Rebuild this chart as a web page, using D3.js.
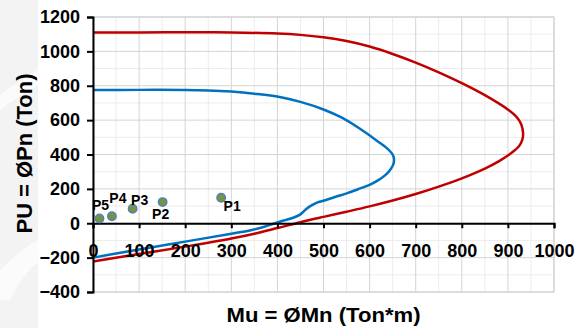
<!DOCTYPE html>
<html>
<head>
<meta charset="utf-8">
<script src="https://cdn.jsdelivr.net/npm/d3@7"></script>
<style>
  html, body { margin: 0; padding: 0; background: #ffffff; }
  svg { display: block; }
  text { font-family: "Liberation Sans", Arial, sans-serif; }
</style>
</head>
<body>
<svg id="chart" width="580" height="328"></svg>
<script>
// ---- data ----
const outerMu = [0, 100, 200, 300, 400, 450, 500, 550, 600, 650, 700, 750, 800, 850, 902, 915, 924, 929.5, 933, 931, 924, 907, 880, 850, 800, 750, 700, 650, 600, 550, 500, 450, 400, 350, 300, 250, 200, 100, 0];
const outerPu = [1110, 1110, 1111, 1110, 1104, 1096, 1082, 1060, 1028, 985, 935, 878, 815, 745, 658, 629, 600, 571, 524, 483, 448, 408, 360, 318, 261, 213, 170, 132, 98, 67, 37, 6, -28, -61, -89, -113, -136, -179, -222];

const innerMu = [0, 100, 200, 250, 300, 350, 405, 450, 500, 540, 580, 615, 638, 650, 653, 651, 644, 634, 619, 601, 575, 550, 525, 500, 486, 474, 462, 449, 434, 415, 398, 370, 340, 300, 200, 100, 0];
const innerPu = [775, 776, 776, 773, 766, 754, 735, 706, 662, 614, 548, 482, 436, 400, 372, 340, 309, 280, 251, 225, 198, 174, 153, 131, 120, 104, 82, 50, 32, 17, 3, -22, -42, -61, -107, -153, -200];

const pointNames = ["P1", "P2", "P3", "P4", "P5"];
const pointMu = [278, 151, 86, 41, 14];
const pointPu = [148, 123, 84, 41, 28];

const xTicks = [0, 100, 200, 300, 400, 500, 600, 700, 800, 900, 1000];
const yTicks = [-400, -200, 0, 200, 400, 600, 800, 1000, 1200];

const xTitle = "Mu = ØMn (Ton*m)";
const yTitle = "PU = ØPn (Ton)";

// ---- layout ----
const labelOffsets = { P1: [11, 8], P2: [-2, 12], P3: [7, -9], P4: [6, -18], P5: [1, -13] };

const svg = d3.select("#chart");
const x = d3.scaleLinear().domain([0, 1000]).range([93, 554]);
const y = d3.scaleLinear().domain([-400, 1200]).range([292, 17]);

// left background strip
svg.append("rect").attr("x", 0).attr("y", 0).attr("width", 38).attr("height", 328).attr("fill", "#f3f3f3");
svg.append("path").attr("d", "M0,95 Q20,80 38,70 L38,85 Q20,95 0,110 Z").attr("fill", "#fbfbfb");
svg.append("path").attr("d", "M0,270 Q20,250 38,240 L38,262 Q22,275 10,300 L0,300 Z").attr("fill", "#fbfbfb");

const g = svg.append("g");

// minor grid
const xMinor = d3.range(50, 1000, 100);
const yMinor = d3.range(-300, 1200, 200);
g.selectAll(".vminor").data(xMinor).enter().append("line")
  .attr("x1", d => x(d)).attr("x2", d => x(d)).attr("y1", y(1200)).attr("y2", y(-400))
  .attr("stroke", "#ececec").attr("stroke-width", 1);
g.selectAll(".hminor").data(yMinor).enter().append("line")
  .attr("x1", x(0)).attr("x2", x(1000)).attr("y1", d => y(d)).attr("y2", d => y(d))
  .attr("stroke", "#ececec").attr("stroke-width", 1);
// major grid
g.selectAll(".vmajor").data(xTicks).enter().append("line")
  .attr("x1", d => x(d)).attr("x2", d => x(d)).attr("y1", y(1200)).attr("y2", y(-400))
  .attr("stroke", "#d4d4d4").attr("stroke-width", 1);
g.selectAll(".hmajor").data(yTicks).enter().append("line")
  .attr("x1", x(0)).attr("x2", x(1000)).attr("y1", d => y(d)).attr("y2", d => y(d))
  .attr("stroke", "#d4d4d4").attr("stroke-width", 1);

// plot border
g.append("rect").attr("x", x(0)).attr("y", y(1200)).attr("width", x(1000) - x(0)).attr("height", y(-400) - y(1200))
  .attr("fill", "none").attr("stroke", "#cfcfcf").attr("stroke-width", 1);

// curves
const line = d3.line().x(d => x(d[0])).y(d => y(d[1])).curve(d3.curveCatmullRom.alpha(0.5));
const outer = outerMu.map((m, i) => [m, outerPu[i]]);
const inner = innerMu.map((m, i) => [m, innerPu[i]]);
g.append("path").datum(outer).attr("d", line).attr("fill", "none").attr("stroke", "#C00000").attr("stroke-width", 2.5);
g.append("path").datum(inner).attr("d", line).attr("fill", "none").attr("stroke", "#0070C0").attr("stroke-width", 2.5);

// axes
const yAxis = d3.axisLeft(y).tickValues(yTicks).tickSize(6).tickPadding(7).tickFormat(d3.format("d"));
const yG = svg.append("g").attr("transform", `translate(${x(0)},0)`).call(yAxis);
const xAxis = d3.axisBottom(x).tickValues(xTicks).tickSize(5).tickPadding(16).tickFormat(d3.format("d"));
const xG = svg.append("g").attr("transform", `translate(0,${y(0)})`).call(xAxis);
[yG, xG].forEach(a => {
  a.select(".domain").attr("stroke", "#000").attr("stroke-width", 2);
  a.selectAll(".tick line").attr("stroke", "#000").attr("stroke-width", 2);
  a.selectAll(".tick text").attr("fill", "#000").style("font-size", "18px").style("font-weight", "bold")
    .style("font-family", "'Liberation Sans', Arial, sans-serif");
});

// points
const pts = pointNames.map((n, i) => ({ name: n, mu: pointMu[i], pu: pointPu[i] }));
svg.selectAll(".pt").data(pts).enter().append("circle")
  .attr("cx", d => x(d.mu)).attr("cy", d => y(d.pu)).attr("r", 4.2)
  .attr("fill", "#77933C").attr("stroke", "#4F81BD").attr("stroke-width", 1.5);
svg.selectAll(".ptl").data(pts).enter().append("text")
  .attr("x", d => x(d.mu) + labelOffsets[d.name][0])
  .attr("y", d => y(d.pu) + labelOffsets[d.name][1])
  .attr("text-anchor", "middle").attr("dy", "0.36em")
  .style("font-size", "14px").style("font-weight", "bold").attr("fill", "#000")
  .text(d => d.name);

// titles
svg.append("text").attr("x", (x(0) + x(1000)) / 2).attr("y", 322).attr("text-anchor", "middle")
  .attr("textLength", 194).attr("lengthAdjust", "spacingAndGlyphs")
  .style("font-size", "21px").style("font-weight", "bold").attr("fill", "#000").text(xTitle);
svg.append("text").attr("transform", `translate(32,${(y(1200) + y(-400)) / 2 - 1}) rotate(-90)`)
  .attr("text-anchor", "middle")
  .attr("textLength", 160).attr("lengthAdjust", "spacingAndGlyphs")
  .style("font-size", "22px").style("font-weight", "bold").attr("fill", "#000").text(yTitle);
</script>
</body>
</html>
